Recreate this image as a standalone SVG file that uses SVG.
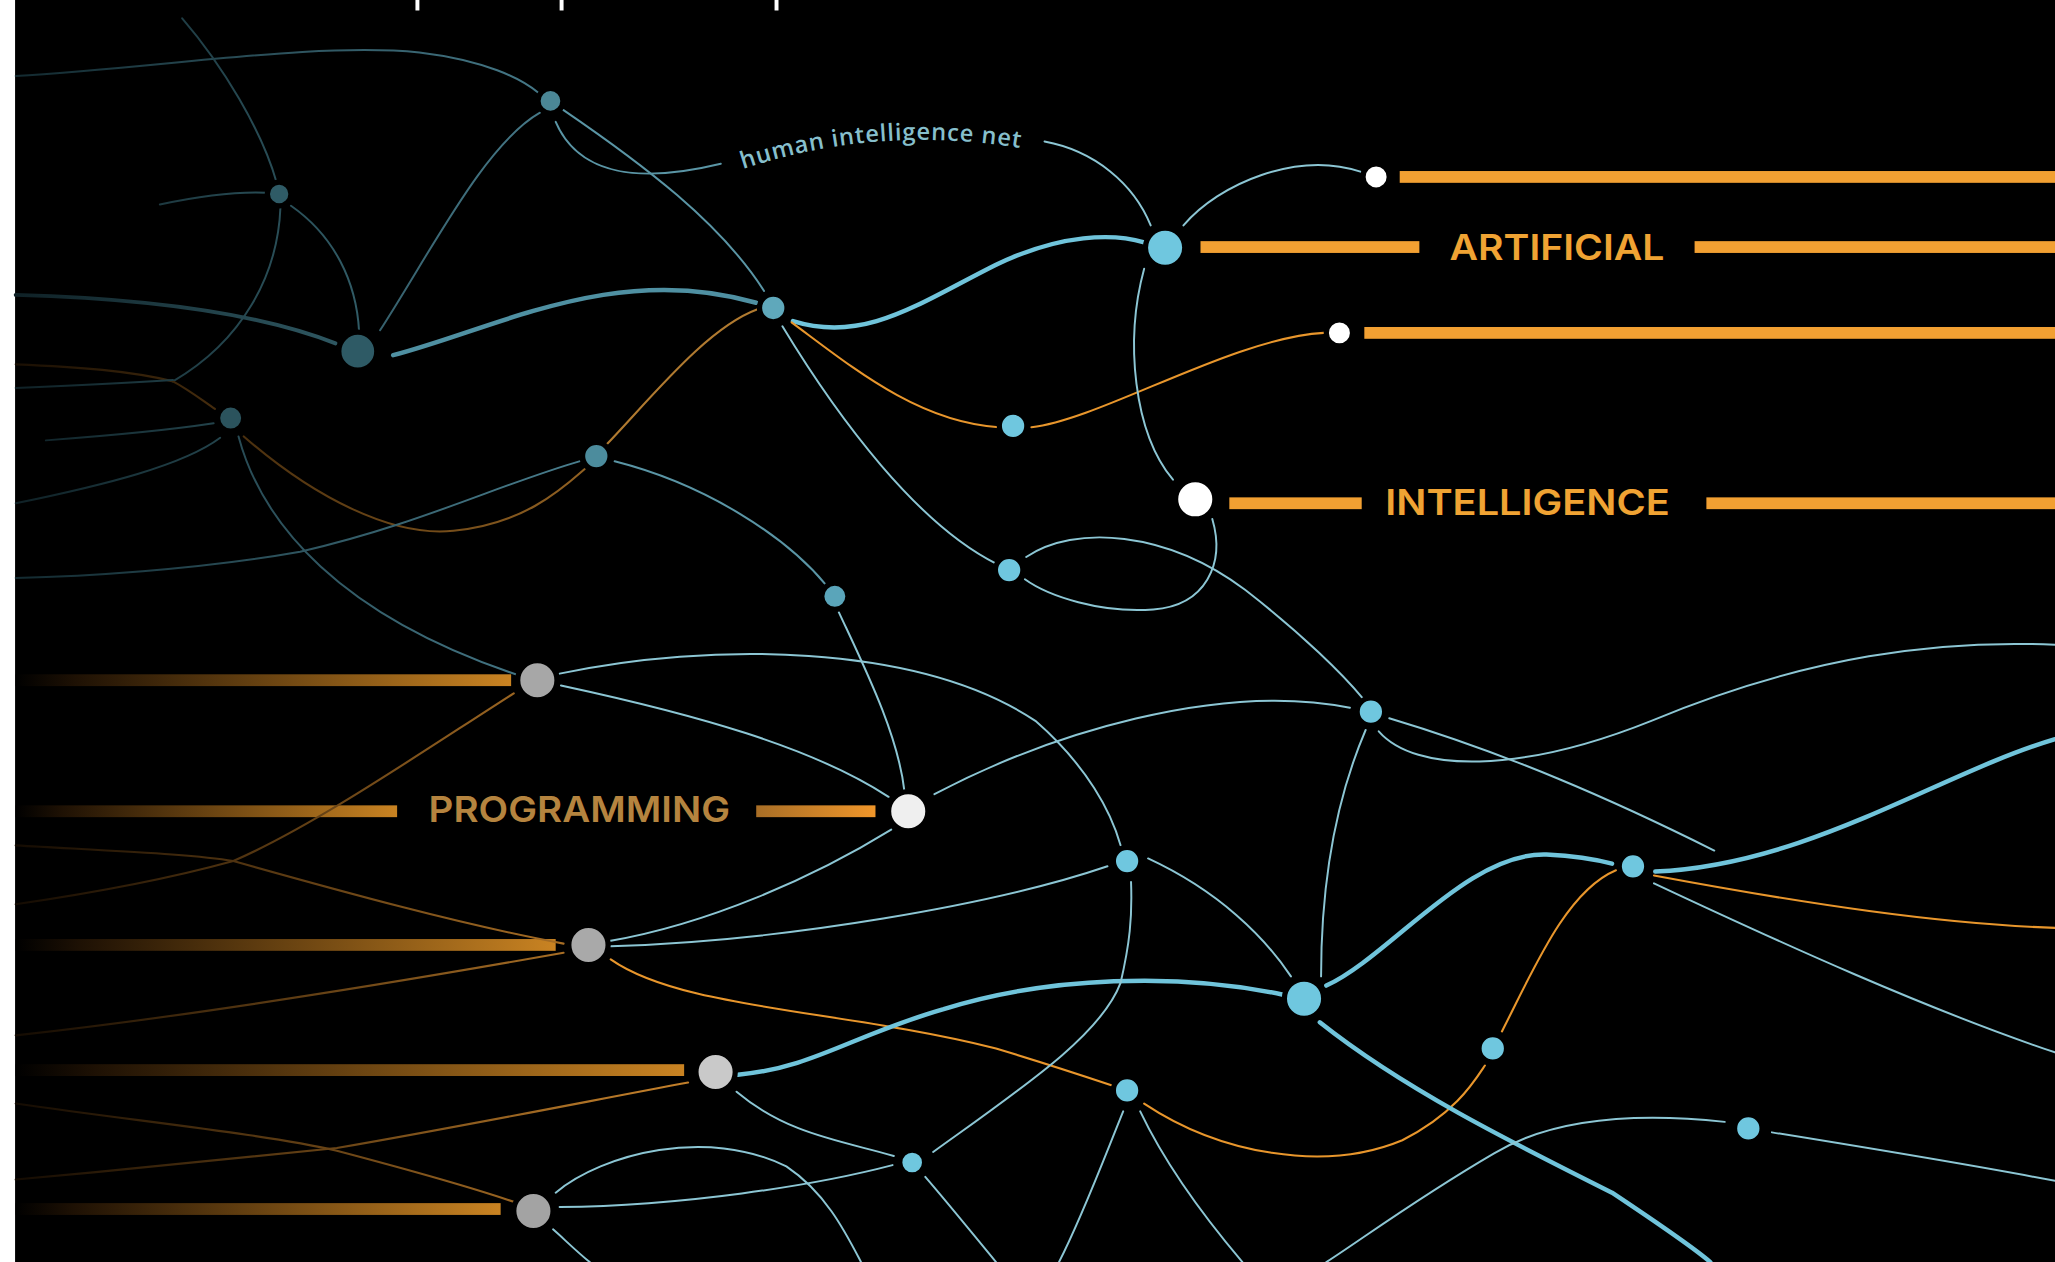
<svg xmlns="http://www.w3.org/2000/svg" xmlns:xlink="http://www.w3.org/1999/xlink" width="2055" height="1262" viewBox="0 0 2055 1262">
<defs>
<style>
.ln{fill:none;stroke:#8cc6d4;stroke-width:1.5;stroke-linecap:round}
.dim{stroke:url(#gt)}
.dm2{stroke:url(#gt2)}
.mid{stroke:#5a95a5}
.thk{fill:none;stroke:#70c4db;stroke-width:3.4;stroke-linecap:round}
.or{fill:none;stroke:#e8962c;stroke-width:1.6;stroke-linecap:round}
.ord{stroke:url(#go2)}
.orm{stroke:url(#go)}
.bar{fill:#f2a032}
.lbl{font-family:Inter,"Liberation Sans",sans-serif;font-weight:600;font-size:27px;fill:#f0a333}
.nd{stroke:#000;stroke-width:4}
.lb{fill:#6fc7df}
.wh{fill:#ffffff}
</style>
<linearGradient id="gb" x1="0" y1="0" x2="1" y2="0">
<stop offset="0" stop-color="#000"/>
<stop offset="0.12" stop-color="#1e1104"/>
<stop offset="1" stop-color="#c98322"/>
</linearGradient>
<linearGradient id="gp" x1="0" y1="0" x2="1" y2="0">
<stop offset="0" stop-color="#a86e26"/>
<stop offset="1" stop-color="#f0962a"/>
</linearGradient>
<linearGradient id="go" gradientUnits="userSpaceOnUse" x1="12" y1="0" x2="500" y2="0">
<stop offset="0" stop-color="#140b02"/>
<stop offset="1" stop-color="#c07e2a"/>
</linearGradient>
<linearGradient id="go2" gradientUnits="userSpaceOnUse" x1="12" y1="0" x2="580" y2="0">
<stop offset="0" stop-color="#1a0f03"/>
<stop offset="0.4" stop-color="#5a3a12"/>
<stop offset="1" stop-color="#b57a2c"/>
</linearGradient>
<linearGradient id="gt" gradientUnits="userSpaceOnUse" x1="12" y1="0" x2="300" y2="0">
<stop offset="0" stop-color="#0f2126"/>
<stop offset="1" stop-color="#34616c"/>
</linearGradient>
<linearGradient id="gt2" gradientUnits="userSpaceOnUse" x1="12" y1="0" x2="450" y2="0">
<stop offset="0" stop-color="#132a30"/>
<stop offset="1" stop-color="#4a8090"/>
</linearGradient>
<path id="lblpath" d="M567,129 Q672,94 784,114"/>
</defs>
<rect x="0" y="0" width="2055" height="1262" fill="#ffffff"/>
<g transform="scale(1.31059)">
<rect x="11.5" y="0" width="1560" height="965" fill="#000"/>
<g id="ticks" fill="#fff">
<rect x="317" y="0" width="3" height="8"/>
<rect x="427" y="0" width="3" height="8"/>
<rect x="591" y="0" width="3" height="8"/>
</g>
<g id="bars">
<rect x="12" y="514.5" width="378" height="9" fill="url(#gb)"/>
<rect x="12" y="614.5" width="291" height="9" fill="url(#gb)"/>
<rect x="577" y="614.5" width="91" height="9" fill="url(#gp)"/>
<rect x="12" y="716.5" width="412" height="9" fill="url(#gb)"/>
<rect x="12" y="812" width="510" height="9" fill="url(#gb)"/>
<rect x="12" y="918" width="370" height="9" fill="url(#gb)"/>
<rect class="bar" x="1068" y="130.5" width="500" height="9"/>
<rect class="bar" x="916" y="184" width="167" height="9"/>
<rect class="bar" x="1293" y="184" width="275" height="9"/>
<rect class="bar" x="1041" y="249.5" width="527" height="9"/>
<rect class="bar" x="938" y="379.5" width="101" height="9"/>
<rect class="bar" x="1302" y="379.5" width="266" height="9"/>
</g>
<g id="connectors">
<path class="ln dm2" d="M12,58 C120,52 240,32 320,40 C370,46 398,60 411,71"/>
<path class="ln dim" d="M139,14 C170,50 200,100 211,139"/>
<path class="ln dim" d="M214,158 C212,210 185,260 132,291"/>
<path class="ln dim" d="M122,156 C150,150 180,146 203,147"/>
<path class="ln dim" d="M222,157 C255,180 272,215 274,253"/>
<path class="ln dm2" d="M290,252 C330,190 370,110 412,86"/>
<path class="thk" style="stroke:url(#gt);stroke-width:3" d="M12,225 C120,228 200,240 256,262"/>
<path class="thk" style="stroke:#4f90a2" d="M300,271 C380,250 470,200 577,231"/>
<path class="thk" d="M605,245 C660,262 700,232 760,202 C810,178 850,178 873,185"/>
<path class="ln mid" d="M430,84 C490,125 550,170 583,222"/>
<path class="ln mid" d="M424,93 C440,130 480,142 550,125"/>
<path class="ln" d="M797,108 C835,115 865,140 878,172"/>
<path class="ln" d="M597,249 C640,320 700,400 760,430"/>
<path class="or" d="M604,246 C650,280 700,322 762,326"/>
<path class="or" d="M787,326 C840,320 940,258 1010,254"/>
<path class="or ord" d="M186,333 C240,380 300,410 346,405 C400,400 430,372 446,358"/>
<path class="or" style="stroke:#b07a30" d="M463,339 C500,300 540,250 578,236"/>
<path class="or ord" d="M12,278 C60,280 100,283 132,291 C145,298 155,306 164,312"/>
<path class="ln dim" d="M12,296 C60,294 100,292 132,290"/>
<path class="ln dim" d="M35,336 C90,332 130,328 163,323"/>
<path class="ln dim" d="M12,384 C80,370 140,355 168,334"/>
<path class="ln dm2" d="M442,352 C380,370 320,400 229,421 C150,435 60,440 12,441"/>
<path class="ln dm2" d="M182,333 C200,400 260,470 395,515"/>
<path class="ln mid" d="M469,352 C540,370 600,410 630,446"/>
<path class="ln" d="M640,467 C660,510 685,560 690,603"/>
<path class="ln" d="M903,172 C930,140 990,115 1038,131"/>
<path class="ln" d="M873,205 C858,260 865,330 895,366"/>
<path class="ln" d="M925,396 C935,430 920,462 880,465 C840,468 800,455 782,442"/>
<path class="ln" d="M783,425 C820,400 890,405 950,450 C995,485 1025,515 1040,533"/>
<path class="ln" d="M427,514 C540,490 700,490 790,550 C830,585 848,620 855,645"/>
<path class="ln" d="M428,523 C530,545 620,570 678,608"/>
<path class="ln" d="M713,606 C800,560 930,520 1030,540"/>
<path class="ln" d="M680,633 C620,670 540,705 465,718"/>
<path class="ln" d="M466,722 C600,718 760,690 845,661"/>
<path class="or" d="M466,732 C520,770 640,770 760,800 C800,812 830,822 848,828"/>
<path class="or" d="M873,842 C930,880 1010,895 1070,870 C1110,850 1125,825 1133,813"/>
<path class="or" d="M1146,787 C1170,740 1195,680 1233,664"/>
<path class="or" d="M1262,668 C1380,690 1480,705 1568,708"/>
<path class="thk" d="M563,820 C620,815 650,790 720,770 C800,745 900,742 979,759"/>
<path class="thk" d="M1012,752 C1060,730 1120,650 1180,652 C1200,653 1215,655 1230,659"/>
<path class="thk" d="M1263,665 C1380,660 1480,590 1568,564"/>
<path class="ln" d="M1262,674 C1360,720 1470,770 1568,803"/>
<path class="thk" d="M1007,780 C1070,830 1150,870 1230,910 C1260,930 1290,950 1305,963"/>
<path class="ln" d="M1042,557 C1015,620 1008,690 1008,745"/>
<path class="ln" d="M1060,548 C1150,575 1230,610 1308,649"/>
<path class="ln" d="M1052,558 C1080,590 1160,590 1260,550 C1380,500 1480,488 1568,492"/>
<path class="ln" d="M876,655 C930,680 965,715 985,745"/>
<path class="ln" d="M712,879 C780,830 840,790 855,750 C862,720 864,700 863,673"/>
<path class="ln" d="M562,833 C600,865 640,870 682,882"/>
<path class="ln" d="M427,921 C520,920 620,905 681,889"/>
<path class="ln" d="M424,910 C460,880 540,860 600,890 C630,910 645,940 657,963"/>
<path class="ln" d="M422,938 C430,945 440,955 450,963"/>
<path class="ln" d="M706,898 C725,920 745,945 760,963"/>
<path class="ln" d="M857,848 C840,890 825,930 808,963"/>
<path class="ln" d="M870,848 C890,890 920,930 948,963"/>
<path class="ln" d="M1316,856 C1260,850 1190,850 1140,880 C1080,915 1040,945 1012,963"/>
<path class="ln" d="M1352,864 C1420,875 1500,888 1568,901"/>
<path class="or orm" d="M392,529 C320,575 240,630 178,657 C120,673 60,683 12,690"/>
<path class="or orm" d="M12,645 C100,650 150,652 178,657 C260,680 350,705 430,720"/>
<path class="or orm" d="M430,727 C300,750 150,775 12,790"/>
<path class="or orm" d="M12,842 C100,855 200,865 257,878 C310,892 360,906 392,917"/>
<path class="or orm" d="M12,900 C100,892 200,882 257,876 C350,860 450,840 525,826"/>
</g>
<g id="label-net">
<text font-family="'Open Sans','DejaVu Sans',sans-serif" font-size="18" font-weight="600" fill="#86bfcc"><textPath href="#lblpath" xlink:href="#lblpath" textLength="214">human intelligence net</textPath></text>
</g>
<g id="label-artificial"><text class="lbl" x="1106" y="198.5" textLength="164" lengthAdjust="spacingAndGlyphs">ARTIFICIAL</text></g>
<g id="label-intelligence"><text class="lbl" x="1057" y="393" textLength="217" lengthAdjust="spacingAndGlyphs">INTELLIGENCE</text></g>
<g id="label-programming"><text class="lbl" style="fill:#b5843f" x="327" y="627.5" textLength="230" lengthAdjust="spacingAndGlyphs">PROGRAMMING</text></g>
<g id="n1"><circle class="nd" cx="420" cy="77" r="9.5" fill="#4b8796"/></g>
<g id="n2"><circle class="nd" cx="213" cy="148" r="9" fill="#2f5b66"/></g>
<g id="n3"><circle class="nd" cx="273" cy="268" r="14.5" fill="#2e5a65"/></g>
<g id="n4"><circle class="nd" cx="176" cy="319" r="10" fill="#2b535d"/></g>
<g id="n5"><circle class="nd" cx="590" cy="235" r="10.5" fill="#5fa8bb"/></g>
<g id="n6"><circle class="nd" cx="455" cy="348" r="10.5" fill="#4c8c9d"/></g>
<g id="n7"><circle class="nd lb" cx="773" cy="325" r="10.5"/></g>
<g id="n8"><circle class="nd lb" cx="889" cy="189" r="15"/></g>
<g id="n9"><circle class="nd wh" cx="1050" cy="135" r="10"/></g>
<g id="n10"><circle class="nd wh" cx="1022" cy="254" r="10"/></g>
<g id="n11"><circle class="nd wh" cx="912" cy="381" r="15"/></g>
<g id="n12"><circle class="nd" cx="637" cy="455" r="10" fill="#5aa5ba"/></g>
<g id="n13"><circle class="nd lb" cx="770" cy="435" r="10.5"/></g>
<g id="n14"><circle class="nd" cx="410" cy="519" r="15" fill="#a7a7a7"/></g>
<g id="n15"><circle class="nd" cx="693" cy="619" r="15" fill="#efefef"/></g>
<g id="n16"><circle class="nd" cx="449" cy="721" r="15" fill="#a9a9a9"/></g>
<g id="n17"><circle class="nd" cx="546" cy="818" r="15" fill="#c9c9c9"/></g>
<g id="n18"><circle class="nd" cx="407" cy="924" r="15" fill="#a3a3a3"/></g>
<g id="n19"><circle class="nd lb" cx="696" cy="887" r="9.5"/></g>
<g id="n20"><circle class="nd lb" cx="860" cy="657" r="10.5"/></g>
<g id="n21"><circle class="nd lb" cx="860" cy="832" r="10.5"/></g>
<g id="n22"><circle class="nd lb" cx="1046" cy="543" r="10.5"/></g>
<g id="n23"><circle class="nd lb" cx="995" cy="762" r="15"/></g>
<g id="n24"><circle class="nd lb" cx="1246" cy="661" r="10.5"/></g>
<g id="n25"><circle class="nd lb" cx="1139" cy="800" r="10.5"/></g>
<g id="n26"><circle class="nd lb" cx="1334" cy="861" r="10.5"/></g>
</g>
</svg>
